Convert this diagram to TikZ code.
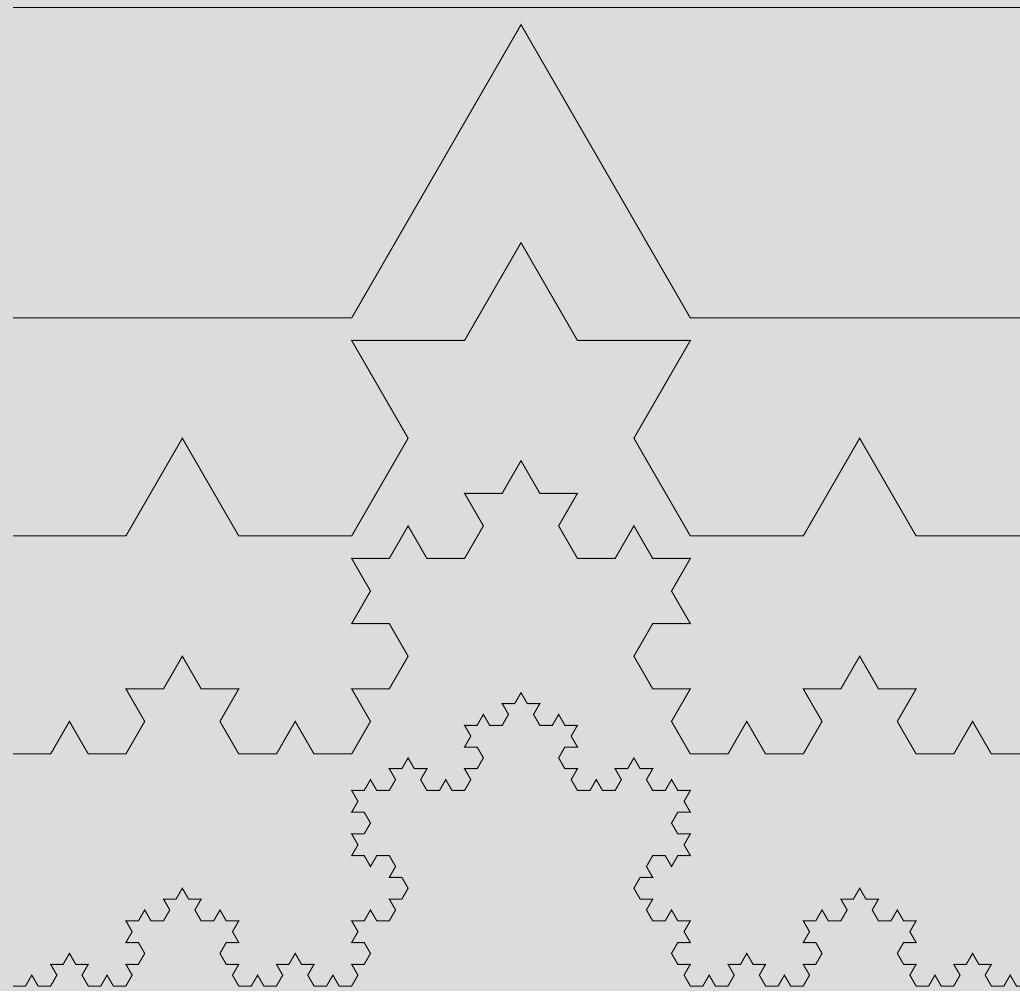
\documentclass[tikz,border=0pt]{standalone}
\definecolor{bgcol}{RGB}{220,220,220}
\tikzset{koch/.style={draw=black, line width=1pt, line join=miter}}
\def\kpath{}
\def\kochbuild#1#2{\ifnum#1=0 \xdef\kpath{\kpath -- ++(#2:\kstep pt)}\else
  \expandafter\kochrec\expandafter{\the\numexpr#1-1\relax}{#2}\fi}
\def\kochrec#1#2{%
  \kochbuild{#1}{#2}%
  \kochbuild{#1}{\the\numexpr#2+60\relax}%
  \kochbuild{#1}{\the\numexpr#2-60\relax}%
  \kochbuild{#1}{#2}}
\def\makekoch#1#2{\gdef\kpath{}\def\kstep{#2}\kochbuild{#1}{0}}
\begin{document}
\begin{tikzpicture}[x=1pt,y=1pt]
\fill[bgcol] (0,0) rectangle (1020,991);
\useasboundingbox (0,0) rectangle (1020,991);
\begin{scope}
\clip (0,0) rectangle (1020,991);
\draw[koch] (13,983) -- (1030,983);
\makekoch{1}{338.6667}
\draw[koch] (13,673) \kpath;
\makekoch{2}{112.8889}
\draw[koch] (13,455) \kpath;
\makekoch{3}{37.62963}
\draw[koch] (13,237) \kpath;
\makekoch{4}{12.54321}
\draw[koch] (13,5) \kpath;
\end{scope}
\end{tikzpicture}
\end{document}
